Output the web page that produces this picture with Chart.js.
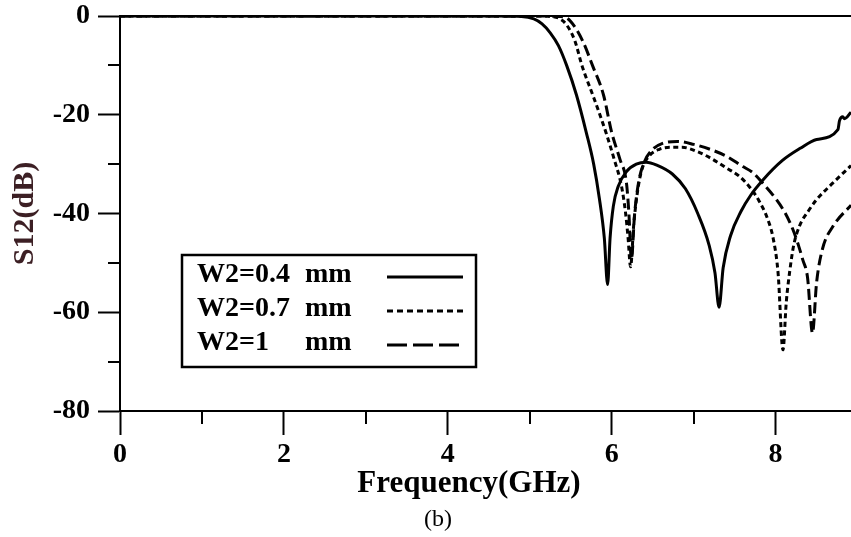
<!DOCTYPE html>
<html>
<head>
<meta charset="utf-8">
<title>S12 vs frequency</title>
<script src="https://cdn.jsdelivr.net/npm/chart.js@4.4.1/dist/chart.umd.min.js"></script>
<style>
  html, body { margin: 0; padding: 0; background: #fff; }
  #wrap { width: 851px; height: 537px; }
</style>
</head>
<body>
<div id="wrap"><canvas id="s12Chart" width="851" height="537"></canvas></div>
<script>
// values (frequency in GHz, S12 in dB)
const freqW04 = [0, 1, 2, 3, 4, 4.6, 4.9, 5.05, 5.15, 5.25, 5.35, 5.45, 5.57, 5.69, 5.78, 5.85, 5.91, 5.95, 5.98, 6.02, 6.08, 6.18, 6.3, 6.42, 6.55, 6.74, 6.9, 7.05, 7.19, 7.26, 7.31, 7.36, 7.45, 7.58, 7.7, 7.84, 8.08, 8.3, 8.5, 8.76, 8.78, 8.82, 8.84, 8.92];
const s12W04 = [0, 0, 0, 0, 0, 0, -0.1, -0.6, -1.6, -3.4, -6, -10, -16, -23.6, -30, -37, -45, -54.4, -45, -38.5, -34.5, -31.5, -30, -29.6, -30.2, -32, -35, -40, -46.5, -52, -59, -51, -44.5, -39.5, -36.2, -33.3, -29.3, -26.8, -25, -23, -21.2, -20.4, -20.8, -19.5];

const freqW07 = [0, 1, 2, 3, 4, 4.8, 5.1, 5.25, 5.36, 5.45, 5.55, 5.64, 5.78, 5.93, 6.03, 6.12, 6.17, 6.2, 6.23, 6.27, 6.32, 6.37, 6.46, 6.58, 6.72, 6.86, 7.05, 7.23, 7.4, 7.56, 7.7, 7.8, 7.9, 7.97, 8.03, 8.09, 8.13, 8.17, 8.22, 8.29, 8.4, 8.5, 8.7, 8.92];
const s12W07 = [0, 0, 0, 0, 0, 0, 0, -0.1, -0.5, -1.8, -5, -10.2, -16.5, -23.6, -29, -34.5, -40, -45, -50.8, -42, -35, -31, -28.3, -27, -26.6, -26.6, -27.5, -29, -30.8, -32.5, -35, -37.5, -41, -45, -52, -67.6, -58, -52, -46.5, -42.6, -39.5, -37.2, -33.8, -30.3];

const freqW10 = [0, 1, 2, 3, 4, 4.9, 5.2, 5.35, 5.45, 5.55, 5.65, 5.77, 5.9, 6.0, 6.1, 6.18, 6.21, 6.24, 6.28, 6.33, 6.4, 6.5, 6.62, 6.8, 7.0, 7.2, 7.4, 7.6, 7.72, 7.85, 8.01, 8.12, 8.21, 8.28, 8.33, 8.39, 8.45, 8.5, 8.57, 8.7, 8.92];
const s12W10 = [0, 0, 0, 0, 0, 0, 0, -0.1, -0.4, -2.2, -5.2, -10.2, -16, -23.6, -29, -33.8, -40, -49.3, -40, -33.5, -29.5, -27, -25.8, -25.4, -26, -27, -28.4, -30.5, -31.7, -34, -37.2, -40, -43.2, -46.5, -49.3, -53, -64.2, -54, -47.3, -42.6, -38.3];

const seriesLabels = ['W2=0.4', 'W2=0.7', 'W2=1'];
const seriesDash = [[], [5, 3.5], [11, 5]];
const legendDash = [[], [6, 4], [20, 6]];

const xTitle = 'Frequency(GHz)';
const yTitle = 'S12(dB)';
const caption = '(b)';

const serif = "'Liberation Serif', 'Times New Roman', serif";

function toPoints(xs, ys) {
    return xs.map((x, i) => ({ x: x, y: ys[i] }));
}

// minor ticks, top frame line, legend box, x title and caption
const decorations = {
    id: 'decorations',
    afterDraw(chart) {
        const ctx = chart.ctx;
        const area = chart.chartArea;
        const xs = chart.scales.x;
        const ys = chart.scales.y;
        ctx.save();
        ctx.strokeStyle = '#000';
        ctx.lineWidth = 2;

        // top frame
        ctx.beginPath();
        ctx.moveTo(area.left, area.top);
        ctx.lineTo(area.right, area.top);
        ctx.stroke();

        // minor ticks
        ctx.beginPath();
        xs.ticks.forEach(t => {
            if (t.value % 2 !== 0) {
                const px = Math.round(xs.getPixelForValue(t.value));
                ctx.moveTo(px, area.bottom);
                ctx.lineTo(px, area.bottom + 13);
            }
        });
        ys.ticks.forEach(t => {
            if (t.value % 20 !== 0) {
                const py = Math.round(ys.getPixelForValue(t.value));
                ctx.moveTo(area.left - 12, py);
                ctx.lineTo(area.left, py);
            }
        });
        ctx.stroke();

        // legend
        const bx = area.left + 62;
        const by = area.top + 239;
        const bw = 294;
        const bh = 112;
        ctx.lineWidth = 2.5;
        ctx.strokeRect(bx, by, bw, bh);
        ctx.font = 'bold 28px ' + serif;
        ctx.fillStyle = '#000';
        ctx.textBaseline = 'middle';
        ctx.textAlign = 'left';
        const rowY = [by + 20, by + 54, by + 88];
        const mmX = bx + 123;
        for (let i = 0; i < seriesLabels.length; i++) {
            ctx.fillText(seriesLabels[i], bx + 15, rowY[i]);
            ctx.fillText('mm', mmX, rowY[i]);
            ctx.beginPath();
            ctx.lineWidth = 3;
            ctx.setLineDash(legendDash[i]);
            ctx.moveTo(bx + 205, rowY[i] + 2);
            ctx.lineTo(bx + 281, rowY[i] + 2);
            ctx.stroke();
        }
        ctx.setLineDash([]);

        // x title and caption
        ctx.textAlign = 'center';
        ctx.font = 'bold 31px ' + serif;
        ctx.fillText(xTitle, area.left + 349, area.bottom + 73);
        ctx.font = '24px ' + serif;
        ctx.fillText(caption, area.left + 318, area.bottom + 109);
        ctx.restore();
    }
};

const ctx = document.getElementById('s12Chart');
new Chart(ctx, {
    type: 'line',
    data: {
        datasets: [
            { label: seriesLabels[0], data: toPoints(freqW04, s12W04), borderDash: seriesDash[0] },
            { label: seriesLabels[1], data: toPoints(freqW07, s12W07), borderDash: seriesDash[1] },
            { label: seriesLabels[2], data: toPoints(freqW10, s12W10), borderDash: seriesDash[2] }
        ]
    },
    options: {
        responsive: false,
        animation: false,
        devicePixelRatio: 1,
        layout: { padding: { top: 16, right: 0, bottom: 0, left: 0 } },
        elements: {
            point: { radius: 0 },
            line: { borderColor: '#000', borderWidth: 3, cubicInterpolationMode: 'monotone', fill: false }
        },
        plugins: {
            legend: { display: false },
            tooltip: { enabled: false }
        },
        scales: {
            x: {
                type: 'linear',
                min: 0,
                max: 8.92,
                afterFit: s => { s.height = 126; s.paddingLeft = 0; s.paddingRight = 0; },
                ticks: {
                    stepSize: 1,
                    includeBounds: false,
                    autoSkip: false,
                    maxRotation: 0,
                    padding: 3,
                    color: '#000',
                    font: { family: serif, size: 28, weight: 'bold' },
                    callback: v => (v % 2 === 0 ? v : '')
                },
                grid: {
                    drawOnChartArea: false,
                    tickLength: 24,
                    tickWidth: 2,
                    tickColor: c => (c.tick && c.tick.value % 2 === 0 ? '#000' : 'rgba(0,0,0,0)')
                },
                border: { color: '#000', width: 2 }
            },
            y: {
                min: -80,
                max: 0,
                afterFit: s => { s.width = 120; s.paddingTop = 0; s.paddingBottom = 0; },
                ticks: {
                    stepSize: 10,
                    padding: 8,
                    color: '#000',
                    font: { family: serif, size: 28, weight: 'bold' },
                    callback: v => (v % 20 === 0 ? v : '')
                },
                grid: {
                    drawOnChartArea: false,
                    tickLength: 22,
                    tickWidth: 2,
                    tickColor: c => (c.tick && c.tick.value % 20 === 0 ? '#000' : 'rgba(0,0,0,0)')
                },
                border: { color: '#000', width: 2 },
                title: {
                    display: true,
                    text: yTitle,
                    color: '#3c1f24',
                    font: { family: serif, size: 30, weight: 'bold' },
                    padding: { top: 7, bottom: 0 }
                }
            }
        }
    },
    plugins: [decorations]
});
</script>
</body>
</html>
